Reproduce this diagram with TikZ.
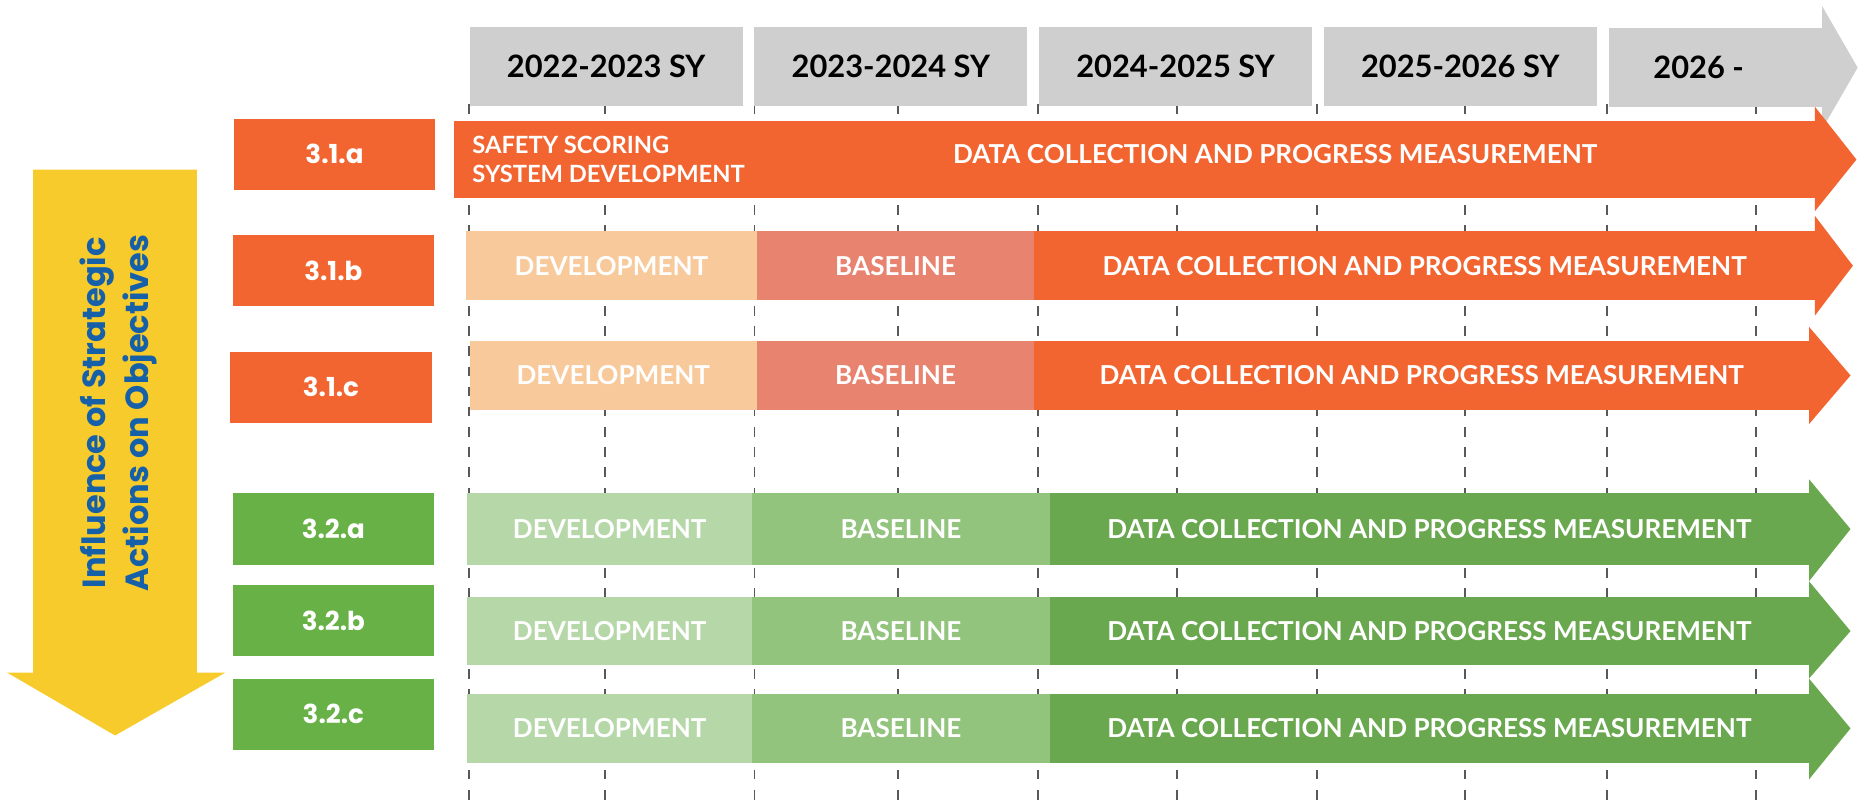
\documentclass[tikz,border=0pt]{standalone}
\usepackage{fontspec}
\setmainfont{Lato}
\newfontfamily\goalfont{Poppins}
\usetikzlibrary{positioning}

\definecolor{hdrgray}{RGB}{208,207,208}
\definecolor{orng}{RGB}{242,101,49}
\definecolor{peach}{RGB}{248,201,155}
\definecolor{salmon}{RGB}{232,131,111}
\definecolor{grn}{RGB}{103,177,70}
\definecolor{lightgrn}{RGB}{182,216,169}
\definecolor{midgrn}{RGB}{147,196,125}
\definecolor{darkgrn}{RGB}{106,168,79}
\definecolor{yel}{RGB}{246,203,43}
\definecolor{infblue}{RGB}{21,96,168}

\begin{document}
\begin{tikzpicture}[x=1pt, y=-1pt,
    yearbox/.style={fill=hdrgray, inner sep=0pt, outer sep=0pt, minimum width=230pt, minimum height=66pt, font=\fontsize{26}{30}\selectfont\bfseries},
    goalbox/.style={fill=#1, text=white, inner sep=0pt, minimum width=170pt, minimum height=60pt, font=\goalfont\fontsize{22}{26}\selectfont\bfseries},
    phase/.style={fill=#1, text=white, inner sep=0pt, outer sep=0pt, minimum height=58pt, font=\fontsize{22}{24}\selectfont\bfseries},
    gridline/.style={dash pattern=on 8pt off 9pt, line width=1.6pt, black!65}]
    \useasboundingbox (0,0) rectangle (1568,675);

    % year grid
    \draw [gridline] (395,88) -- (395,675);
    \draw [gridline] (510,88) -- (510,675);
    \draw [gridline] (636,88) -- (636,675);
    \draw [gridline] (757,88) -- (757,675);
    \draw [gridline] (875,88) -- (875,675);
    \draw [gridline] (992,88) -- (992,675);
    \draw [gridline] (1110,88) -- (1110,675);
    \draw [gridline] (1235,88) -- (1235,675);
    \draw [gridline] (1355,88) -- (1355,675);
    \draw [gridline] (1480,88) -- (1480,675);

    % school years
    \node (yr1) [yearbox, anchor=west] at (396,56) {2022-2023 SY};
    \node (yr2) [yearbox, right=10pt of yr1] {2023-2024 SY};
    \node (yr3) [yearbox, right=10pt of yr2] {2024-2025 SY};
    \node (yr4) [yearbox, right=10pt of yr3] {2025-2026 SY};
    \node (yr5) [yearbox, minimum width=180pt, right=10pt of yr4, yshift=-1pt] {\hspace*{-28pt}2026 -};
    \fill [hdrgray] ([yshift=19pt]yr5.north east) -- ([xshift=30pt]yr5.east) -- ([yshift=-19pt]yr5.south east) -- cycle;

    % influence arrow
    \fill [yel] (28,143) -- (166,143) -- (166,567) -- (190,567) -- (97,620) -- (6,567) -- (28,567) -- cycle;
    \node (infl) [rotate=90, align=center, text=infblue, font=\goalfont\fontsize{27}{36}\selectfont\bfseries] at (100,348) {Influence of Strategic\\Actions on Objectives};

    % 3.1.a
    \node (g1a) [goalbox=orng] at (282,130) {3.1.a};
    \node (data1a) [phase=orng, minimum width=1147pt, minimum height=65pt, anchor=west] at (383,134.5) {};
    \node (safety) [text=white, align=left, inner sep=0pt, anchor=west, font=\fontsize{20}{24}\selectfont\bfseries] at ([xshift=15pt]data1a.west) {SAFETY SCORING\\SYSTEM DEVELOPMENT};
    \node (collect1a) [text=white, font=\fontsize{22}{24}\selectfont\bfseries] at (1075,130) {DATA COLLECTION AND PROGRESS MEASUREMENT};
    \fill [orng] ([yshift=12pt]data1a.north east) -- ([xshift=35pt]data1a.east) -- ([yshift=-11pt]data1a.south east) -- cycle;

    % 3.1.b
    \node (g1b) [goalbox=orng] at (281,228) {3.1.b};
    \node (dev1b) [phase=peach, minimum width=245pt, anchor=west] at (393,224) {DEVELOPMENT};
    \node (base1b) [phase=salmon, minimum width=234pt, right=0pt of dev1b] {BASELINE};
    \node (data1b) [phase=orng, minimum width=658pt, right=0pt of base1b] {DATA COLLECTION AND PROGRESS MEASUREMENT};
    \fill [orng] ([yshift=13pt]data1b.north east) -- ([xshift=32pt]data1b.east) -- ([yshift=-13pt]data1b.south east) -- cycle;

    % 3.1.c
    \node (g1c) [goalbox=orng] at (279,326.5) {3.1.c};
    \node (dev1c) [phase=peach, minimum width=242pt, anchor=west] at (396,316.5) {DEVELOPMENT};
    \node (base1c) [phase=salmon, minimum width=234pt, right=0pt of dev1c] {BASELINE};
    \node (data1c) [phase=orng, minimum width=653pt, right=0pt of base1c] {DATA COLLECTION AND PROGRESS MEASUREMENT};
    \fill [orng] ([yshift=12pt]data1c.north east) -- ([xshift=35pt]data1c.east) -- ([yshift=-12pt]data1c.south east) -- cycle;

    % 3.2.a
    \node (g2a) [goalbox=grn] at (281,446) {3.2.a};
    \node (dev2a) [phase=lightgrn, minimum width=240pt, minimum height=60pt, anchor=west] at (394,446) {DEVELOPMENT};
    \node (base2a) [phase=midgrn, minimum width=251pt, minimum height=60pt, right=0pt of dev2a] {BASELINE};
    \node (data2a) [phase=darkgrn, minimum width=640pt, minimum height=60pt, right=0pt of base2a] {DATA COLLECTION AND PROGRESS MEASUREMENT};
    \fill [darkgrn] ([yshift=12pt]data2a.north east) -- ([xshift=35pt]data2a.east) -- ([yshift=-14pt]data2a.south east) -- cycle;

    % 3.2.b
    \node (g2b) [goalbox=grn] at (281,523) {3.2.b};
    \node (dev2b) [phase=lightgrn, minimum width=240pt, anchor=west] at (394,532) {DEVELOPMENT};
    \node (base2b) [phase=midgrn, minimum width=251pt, right=0pt of dev2b] {BASELINE};
    \node (data2b) [phase=darkgrn, minimum width=640pt, right=0pt of base2b] {DATA COLLECTION AND PROGRESS MEASUREMENT};
    \fill [darkgrn] ([yshift=13pt]data2b.north east) -- ([xshift=35pt]data2b.east) -- ([yshift=-11pt]data2b.south east) -- cycle;

    % 3.2.c
    \node (g2c) [goalbox=grn] at (281,602) {3.2.c};
    \node (dev2c) [phase=lightgrn, minimum width=240pt, anchor=west] at (394,614) {DEVELOPMENT};
    \node (base2c) [phase=midgrn, minimum width=251pt, right=0pt of dev2c] {BASELINE};
    \node (data2c) [phase=darkgrn, minimum width=640pt, right=0pt of base2c] {DATA COLLECTION AND PROGRESS MEASUREMENT};
    \fill [darkgrn] ([yshift=13pt]data2c.north east) -- ([xshift=35pt]data2c.east) -- ([yshift=-14pt]data2c.south east) -- cycle;
\end{tikzpicture}
\end{document}
